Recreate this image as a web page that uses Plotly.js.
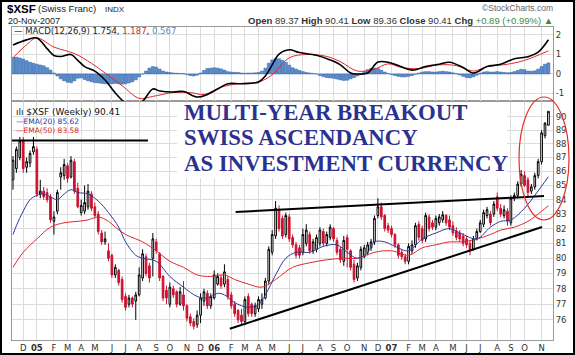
<!DOCTYPE html>
<html><head><meta charset="utf-8">
<script src="https://cdn.plot.ly/plotly-3.0.1.min.js"></script>
<style>
html,body{margin:0;padding:0;background:#fff;}
#wrap{position:relative;width:575px;height:355px;}
#chart{width:575px;height:355px;}
#frame{position:absolute;left:0;top:0;width:575px;height:355px;box-sizing:border-box;border:2px solid #000;pointer-events:none;}
</style>
</head><body><div id="wrap"><div id="chart"></div><div id="frame"></div></div>
<script>
// ---- weekly OHLC of $XSF, first week 2004-11-15 ----
const open = [85.4,86.2,87.0,88.2,86.3,86.6,87.4,87.6,84.4,84.6,84.5,84.2,82.5,83.2,85.6,85.7,86.4,85.6,86.7,84.8,
83.1,83.2,83.5,84.4,83.5,83.0,81.7,81.1,80.5,80.2,78.9,79.2,78.6,77.5,77.0,77.4,77.2,77.6,78.7,80.1,
79.5,80.0,81.1,80.3,78.8,77.9,77.0,78.0,77.8,77.0,77.6,76.9,76.2,75.9,75.7,76.3,77.2,77.7,76.9,77.4,
78.3,78.7,78.3,78.6,77.6,77.0,76.6,76.3,75.9,77.5,77.0,76.4,76.7,77.0,77.4,78.5,80.4,81.5,83.3,82.7,
81.6,82.8,81.4,80.9,80.7,80.4,81.0,81.6,80.5,80.6,81.0,81.8,81.0,81.4,82.0,81.2,80.6,79.8,81.4,80.5,
79.6,78.7,79.4,80.1,80.4,80.7,81.1,82.9,83.5,82.9,82.2,82.0,81.6,80.9,80.4,80.1,79.8,80.5,80.9,82.3,
82.0,81.3,82.8,82.4,82.1,82.4,82.6,82.9,82.6,82.2,81.8,81.7,81.5,81.3,81.0,80.6,81.3,81.8,82.3,82.9,
83.0,83.0,84.2,83.4,82.9,83.2,82.4,84.1,84.3,85.1,85.7,85.4,84.6,84.9,85.7,86.7,88.6,89.37];
const high = [87.1,87.8,88.5,88.5,87.0,87.5,88.5,87.8,85.4,84.9,84.8,84.4,83.2,84.7,86.3,86.9,86.6,87.1,86.9,85.2,
84.0,85.0,85.1,84.6,83.8,83.2,81.9,81.8,81.0,80.3,79.6,79.3,78.8,77.7,77.6,77.5,77.8,79.4,80.6,80.3,
79.7,81.7,81.3,80.4,78.9,78.2,78.4,78.2,77.9,78.1,78.5,77.0,76.4,76.1,76.6,77.7,78.0,77.9,77.7,79.2,
79.0,78.9,79.6,78.8,77.8,77.2,76.7,76.7,77.5,77.7,77.1,77.1,77.5,77.7,78.7,80.8,81.9,83.9,83.6,82.9,
83.1,83.0,81.6,81.1,80.9,82.0,82.3,81.8,81.3,81.6,82.1,82.0,81.8,82.3,82.1,81.4,80.8,81.5,81.6,80.6,
79.9,79.7,80.8,80.9,81.1,81.3,82.9,84.1,83.8,83.0,82.4,82.2,81.7,81.0,80.6,80.3,81.0,81.2,82.4,82.5,
82.2,83.1,83.0,82.6,82.9,83.0,83.2,83.0,82.9,82.5,82.1,81.9,81.7,81.5,81.2,81.5,82.0,82.6,83.3,83.5,
83.2,83.9,84.5,83.7,83.6,83.4,84.3,84.5,85.3,86.1,86.0,85.6,85.1,85.9,86.9,89.0,89.6,90.41];
const low = [84.7,85.9,86.8,85.9,85.9,86.3,87.2,84.2,84.1,84.0,83.8,82.4,81.6,83.0,84.7,85.4,85.2,85.5,84.4,83.4,
82.9,83.0,83.3,83.2,82.7,81.6,80.9,80.9,79.8,78.7,78.7,78.2,77.1,76.6,76.8,76.8,76.0,77.5,78.5,78.8,
78.4,78.8,80.3,78.5,77.2,77.0,76.8,77.4,76.8,76.9,76.6,75.9,75.6,75.4,75.5,75.8,76.9,76.7,76.7,77.3,
78.2,78.0,78.1,77.3,76.7,76.2,75.8,75.7,75.7,76.2,76.2,76.2,76.5,76.7,77.3,78.3,80.2,81.3,81.8,81.3,
81.4,81.1,80.7,80.0,80.0,80.2,80.8,80.3,80.3,80.4,80.8,80.8,80.8,81.2,81.1,80.2,79.7,79.5,79.4,79.2,
78.4,78.5,79.2,80.0,80.2,80.5,80.9,82.7,82.6,81.8,81.7,81.4,80.7,80.0,79.9,79.6,79.6,80.3,80.7,81.2,
81.0,81.1,81.8,81.9,81.9,82.2,82.4,82.2,81.9,81.5,81.2,81.1,80.8,80.7,80.2,80.5,81.2,81.7,82.1,82.7,
82.2,82.8,83.2,82.8,82.7,82.2,82.2,83.9,84.1,84.9,84.9,84.2,84.4,84.7,85.5,86.5,88.4,89.36];
const close = [86.8,87.6,88.2,86.2,86.7,87.3,87.8,84.4,84.6,84.2,84.0,82.6,82.8,84.5,85.9,86.5,85.5,86.8,84.6,83.5,
83.6,83.8,84.6,83.4,82.9,81.8,81.1,81.3,80.0,78.9,79.4,78.4,77.3,76.8,77.4,77.0,77.6,78.9,80.3,79.0,
78.7,81.3,80.5,78.7,77.4,77.4,78.1,77.6,77.0,77.8,76.9,76.1,75.8,75.6,76.3,77.4,77.8,76.9,77.5,78.9,
78.8,78.2,79.1,77.5,76.9,76.4,76.0,75.9,77.3,76.4,76.4,76.9,77.3,77.3,78.5,80.6,81.6,83.4,82.0,81.5,
82.9,81.3,80.9,80.2,80.2,81.6,81.9,80.5,81.1,81.4,81.9,81.0,81.6,82.1,81.3,80.4,79.9,81.2,80.6,79.4,
78.6,79.5,80.6,80.7,80.9,81.1,82.7,83.5,82.8,82.0,81.9,81.6,80.9,80.2,80.1,79.8,80.8,80.9,82.2,81.4,
81.2,82.9,82.0,82.1,82.7,82.8,82.95,82.4,82.1,81.7,81.4,81.3,81.0,80.9,80.5,81.3,81.8,82.4,83.1,83.3,
82.4,83.7,83.4,83.0,83.3,82.5,84.1,84.3,85.1,85.8,85.0,84.5,84.9,85.7,86.7,88.8,89.52,90.41];

// ---- moving averages (week index, value) ----
const ema20Week = [0,1,3,5,7,9,11,13,15,17,19,22,25,28,31,33,36,38,42,46,50,54,57,60,62,65,69,72,74,77,80,83,87,91,95,98,101,104,106,109,112,116,120,124,128,132,136,140,143,146,150,153,157];
const ema20Val  = [81.6,82.2,83.2,84.0,84.3,84.4,84.2,84.0,84.4,84.7,84.5,84.4,83.9,83.1,82.1,81.1,80.2,80.0,79.8,78.8,78.1,77.5,77.4,77.7,77.6,77.1,76.8,77.0,77.6,78.9,80.0,80.4,80.4,80.8,80.9,80.4,80.0,80.4,81.1,81.1,80.8,80.5,81.3,81.7,82.0,81.6,81.3,82.1,82.5,82.6,83.4,84.3,85.62];
const ema50Week = [0,3,7,11,15,19,22,25,28,30,33,36,38,42,46,50,54,58,62,65,69,73,77,82,87,92,97,101,106,111,116,120,124,128,132,136,140,143,147,151,155,157];
const ema50Val  = [79.4,80.4,81.3,82.1,82.4,82.5,82.6,82.8,82.5,82.1,81.6,81.3,81.1,80.5,79.8,79.4,78.9,78.8,78.9,78.6,78.3,78.1,78.6,79.4,79.7,79.9,80.0,80.0,80.4,80.5,80.2,80.7,80.9,81.1,81.1,81.3,81.6,81.9,82.1,82.5,83.2,83.58];

// ---- MACD(12,26,9) ----
const macdWeek = [0,4,7,10,12,14,17,19,21,24,27,30,33,35,38,41,43,47,50,54,57,60,63,67,72,74,76,78,81,84,89,93,96,99,101,104,107,110,113,117,121,125,128,132,135,139,143,147,151,154,157];
const macdVal  = [1.49,1.75,1.85,1.3,0.95,0.9,1.0,0.7,0.38,0.15,-0.31,-0.97,-1.5,-1.7,-1.4,-0.77,-0.87,-0.92,-0.9,-1.18,-1.05,-0.77,-0.5,-0.5,-0.41,-0.1,0.47,1.02,1.24,1.1,0.96,0.72,0.47,0.05,0.0,0.05,0.61,0.6,0.43,0.2,0.38,0.5,0.6,0.33,0.05,0.38,0.5,0.78,0.88,1.12,1.754];
const sigWeek  = [0,4,7,12,18,23,27,32,37,41,47,52,56,61,66,72,76,81,86,92,96,101,106,110,114,119,125,130,135,139,145,150,157];
const sigVal   = [0.83,1.5,1.85,1.38,1.05,0.55,0.05,-0.6,-1.25,-1.15,-0.95,-0.95,-1.05,-0.68,-0.5,-0.41,-0.04,0.83,1.0,0.9,0.63,0.15,0.25,0.52,0.33,0.28,0.47,0.43,0.15,0.38,0.5,0.7,1.187];
const histVal  = [0.85,0.86,0.82,0.76,0.68,0.6,0.55,0.5,0.46,0.42,
0.32,0.2,0.05,-0.1,-0.25,-0.35,-0.42,-0.45,-0.35,-0.22,
-0.2,-0.28,-0.35,-0.4,-0.44,-0.46,-0.48,-0.5,-0.52,-0.5,
-0.48,-0.5,-0.52,-0.5,-0.46,-0.4,-0.3,-0.15,0.0,0.15,
0.3,0.38,0.35,0.25,0.15,0.1,0.08,0.05,0.04,0.03,
0.02,-0.03,-0.08,-0.1,-0.06,0.05,0.18,0.28,0.3,0.32,
0.3,0.26,0.2,0.12,0.1,0.08,0.08,0.05,0.04,0.05,
0.05,0.06,0.08,0.15,0.3,0.55,0.72,0.8,0.78,0.7,
0.6,0.45,0.32,0.25,0.18,0.12,0.08,0.05,0.03,0.0,
-0.08,-0.14,-0.18,-0.2,-0.22,-0.26,-0.3,-0.33,-0.32,-0.25,
-0.18,-0.1,0.0,0.12,0.22,0.28,0.3,0.28,0.2,0.1,
0.03,-0.03,-0.08,-0.12,-0.15,-0.15,-0.12,-0.08,-0.02,0.05,
0.1,0.12,0.12,0.1,0.1,0.12,0.14,0.12,0.1,0.06,
0.02,-0.05,-0.12,-0.18,-0.2,-0.15,-0.06,0.04,0.1,0.12,
0.1,0.1,0.12,0.1,0.08,0.06,0.08,0.12,0.18,0.24,
0.22,0.15,0.14,0.16,0.25,0.38,0.5,0.567];

// ---- hand-drawn trend lines (date, price) ----
const topLineDate = ['2004-11-12','2005-08-19'];   const topLinePrice = [88.24,88.24];
const resLineDate = ['2006-02-15','2007-11-10'];   const resLinePrice = [83.14,84.25];
const supLineDate = ['2006-02-03','2007-11-06'];   const supLinePrice = [75.44,82.11];

// ---- tick labels ----
const monthTickText = ['D','<b>05</b>','F','M','A','M','J','J','A','S','O','N',
  'D','<b>06</b>','F','M','A','M','J','J','A','S','O','N',
  'D','<b>07</b>','F','M','A','M','J','J','A','S','O','N'];
const priceTicks = [76,77,78,79,80,81,82,83,84,85,86,87,88,89,90];
const macdTicks = [-1,0,1,2];

// ---- build ----
const DAY = 86400000, weekStart = Date.UTC(2004,10,15);
const dates = close.map((_, i) => new Date(weekStart + i*7*DAY).toISOString().slice(0,10));
const monthTickVals = [];
for (let i = 1; i < dates.length; i++) if (dates[i].slice(5,7) !== dates[i-1].slice(5,7)) monthTickVals.push(dates[i]);
const at = w => w.map(i => dates[i]);

const M = {l:12, r:22, t:27, b:15}, W = 575, H = 355;
const PW = W - M.l - M.r, PH = H - M.t - M.b;
const px = x => (x - M.l) / PW, py = y => (H - M.b - y) / PH;
const splitY = py(101);

const RED = '#e3262f', NAVY = '#2b3a9c', CANDLE_RED = '#cc1130';
const traces = [
  {type:'candlestick', x:dates, open, high, low, close, xaxis:'x', yaxis:'y', hoverinfo:'skip',
   increasing:{line:{color:'#000', width:1}, fillcolor:'#ffffff'},
   decreasing:{line:{color:CANDLE_RED, width:1}, fillcolor:CANDLE_RED}, whiskerwidth:0},
  {type:'scatter', mode:'lines', x:at(ema50Week), y:ema50Val, line:{color:RED, width:1, shape:'spline'}, xaxis:'x', yaxis:'y', hoverinfo:'skip'},
  {type:'scatter', mode:'lines', x:at(ema20Week), y:ema20Val, line:{color:NAVY, width:1, shape:'spline'}, xaxis:'x', yaxis:'y', hoverinfo:'skip'},
  {type:'scatter', mode:'lines', x:topLineDate, y:topLinePrice, line:{color:'#000', width:2}, xaxis:'x', yaxis:'y', hoverinfo:'skip'},
  {type:'scatter', mode:'lines', x:resLineDate, y:resLinePrice, line:{color:'#000', width:2}, xaxis:'x', yaxis:'y', hoverinfo:'skip'},
  {type:'scatter', mode:'lines', x:supLineDate, y:supLinePrice, line:{color:'#000', width:2}, xaxis:'x', yaxis:'y', hoverinfo:'skip'},
  {type:'bar', x:dates, y:histVal, xaxis:'x2', yaxis:'y2', marker:{color:'#5d8fcf', line:{color:'#2f5f9d', width:0.5}}, hoverinfo:'skip'},
  {type:'scatter', mode:'lines', x:at(sigWeek), y:sigVal, line:{color:RED, width:1, shape:'spline'}, xaxis:'x2', yaxis:'y2', hoverinfo:'skip'},
  {type:'scatter', mode:'lines', x:at(macdWeek), y:macdVal, line:{color:'#000', width:1.6, shape:'spline'}, xaxis:'x2', yaxis:'y2', hoverinfo:'skip'}
];

const GRID = '#dcdcdc', AXL = '#9a9a9a', TF = {family:'DejaVu Sans', size:8.5, color:'#333'};
const xCommon = {type:'date', range:['2004-11-12 23:00','2007-11-28 10:00'], tickvals:monthTickVals, ticktext:monthTickText,
  tickangle:0, showgrid:true, gridcolor:GRID, gridwidth:1, showline:true, linecolor:AXL, mirror:true, ticks:'', zeroline:false, tickfont:TF};
const A = (x, y, text, font, xanchor) => ({xref:'paper', yref:'paper', x:px(x), y:py(y), text, showarrow:false,
  xanchor:xanchor || 'left', yanchor:'middle', font, borderpad:0});
const BIG = {family:'Liberation Serif', size:22.8, color:'#2b3190'};

const layout = {
  width:W, height:H, margin:M, paper_bgcolor:'#fff', plot_bgcolor:'#fff', showlegend:false, bargap:0.12,
  font:{family:'DejaVu Sans'},
  xaxis: Object.assign({}, xCommon, {anchor:'y', rangeslider:{visible:false}}),
  xaxis2: Object.assign({}, xCommon, {anchor:'y2', matches:'x', showticklabels:false}),
  yaxis: {type:'log', domain:[0, splitY], range:[Math.log10(74.74), Math.log10(91.19)], side:'right',
    tickvals:priceTicks, ticktext:priceTicks.map(String), tickfont:TF, showgrid:true, gridcolor:GRID,
    showline:true, linecolor:AXL, mirror:true, ticks:'', zeroline:false},
  yaxis2: {domain:[splitY, 1], range:[-1.385, 2.41], side:'right', tickvals:macdTicks, ticktext:macdTicks.map(String),
    tickfont:TF, showgrid:true, gridcolor:GRID, showline:true, linecolor:AXL, mirror:true, ticks:'', zeroline:false},
  shapes: [
    {type:'rect', xref:'paper', yref:'paper', x0:px(177), x1:px(507), y0:py(178), y1:py(103), fillcolor:'#fff', line:{width:0}, layer:'above'},
    {type:'circle', xref:'paper', yref:'paper', x0:px(519), x1:px(569), y0:py(220), y1:py(97), line:{color:'#e62e2e', width:1.2}, layer:'above'}
  ],
  annotations: [
    A(6, 9, '<b>$XSF</b>', {family:'Liberation Sans', size:11.5, color:'#000'}),
    A(37, 9, '(Swiss Franc)', {family:'Liberation Sans', size:9.5, color:'#222'}),
    A(104, 9.5, 'INDX', {family:'Liberation Sans', size:8, color:'#222'}),
    A(7, 21, '20-Nov-2007', {family:'Liberation Sans', size:9, color:'#222'}),
    A(554, 8, '©StockCharts.com', {family:'Liberation Sans', size:8.5, color:'#666'}, 'right'),
    A(554, 21, '<b>Open</b> 89.37 <b>High</b> 90.41 <b>Low</b> 89.36 <b>Close</b> 90.41 <b>Chg</b> <span style="color:#3d8a3d">+0.89 (+0.99%) ▲</span>',
      {family:'Liberation Sans', size:9.5, color:'#333'}, 'right'),
    A(13, 31, '— MACD(12,26,9) 1.754, <span style="color:' + RED + '">1.187</span>, <span style="color:#4a90c8">0.567</span>',
      {family:'DejaVu Sans', size:8.5, color:'#222'}),
    A(15, 112, 'ılı $XSF (Weekly) 90.41', {family:'DejaVu Sans', size:9, color:'#111'}),
    A(15, 121, '—EMA(20) 85.62', {family:'DejaVu Sans', size:7.5, color:NAVY}),
    A(15, 130, '—EMA(50) 83.58', {family:'DejaVu Sans', size:7.5, color:RED}),
    A(183, 112.5, '<b>MULTI-YEAR BREAKOUT</b>', BIG),
    A(183, 137.5, '<b>SWISS ASCENDANCY</b>', BIG),
    A(183, 163.5, '<b>AS INVESTMENT CURRENCY</b>', BIG)
  ]
};

Plotly.newPlot('chart', traces, layout, {staticPlot:true, displayModeBar:false});
</script></body></html>
